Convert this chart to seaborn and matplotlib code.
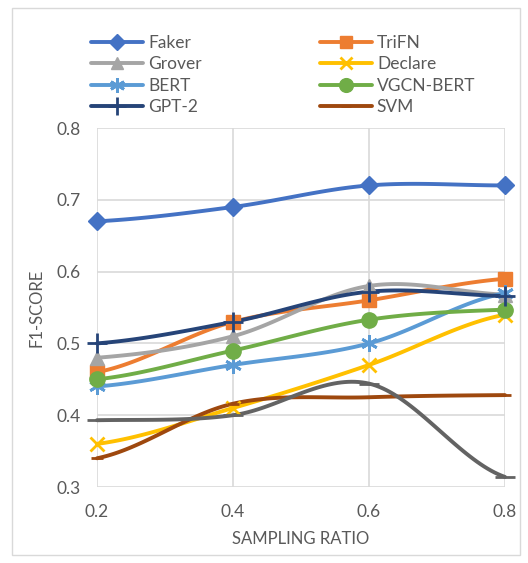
import numpy as np
import pandas as pd
import seaborn as sns
import matplotlib.pyplot as plt
from matplotlib.lines import Line2D
from matplotlib.patches import Rectangle

ratios = [0.2, 0.4, 0.6, 0.8]
faker = [0.67, 0.69, 0.72, 0.72]
trifn = [0.46, 0.53, 0.56, 0.59]
grover = [0.48, 0.51, 0.58, 0.568]
declare = [0.36, 0.41, 0.47, 0.54]
bert = [0.44, 0.47, 0.50, 0.57]
vgcn_bert = [0.45, 0.49, 0.533, 0.547]
gpt2 = [0.50, 0.53, 0.572, 0.566]
svm = [0.34, 0.416, 0.425, 0.428]
unlabeled = [0.393, 0.40, 0.444, 0.314]

# name, values, colour, marker, marker size
series = [
    ("Faker", faker, "#4472C4", "D", 9),
    ("TriFN", trifn, "#ED7D31", "s", 10),
    ("Grover", grover, "#A5A5A5", "^", 10),
    ("Declare", declare, "#FFC000", "x", 10),
    ("BERT", bert, "#5B9BD5", (6, 2, 0), 12),
    ("VGCN-BERT", vgcn_bert, "#70AD47", "o", 11),
    ("GPT-2", gpt2, "#264478", "+", 14),
    ("SVM", svm, "#9E480E", "_", 8),
]
extra = (None, unlabeled, "#636363", "_", 14)


def smooth(xs, ys, n=40):
    # excel-like smoothed line (catmull-rom through the points)
    xs, ys = np.asarray(xs, float), np.asarray(ys, float)
    px = np.concatenate([[2 * xs[0] - xs[1]], xs, [2 * xs[-1] - xs[-2]]])
    py = np.concatenate([[ys[0]], ys, [ys[-1]]])
    out_x, out_y = [], []
    for i in range(1, len(px) - 2):
        t = np.linspace(0, 1, n)
        for arr, out in ((px, out_x), (py, out_y)):
            p0, p1, p2, p3 = arr[i - 1], arr[i], arr[i + 1], arr[i + 2]
            b1 = p1 + (p2 - p0) / 6
            b2 = p2 - (p3 - p1) / 6
            out.append((1 - t) ** 3 * p1 + 3 * (1 - t) ** 2 * t * b1
                       + 3 * (1 - t) * t ** 2 * b2 + t ** 3 * p2)
    return np.concatenate(out_x), np.concatenate(out_y)


sns.set_style("white")
plt.rcParams["font.family"] = ["Lato", "DejaVu Sans"]
text_col = "#595959"

fig = plt.figure(figsize=(5.28, 5.63), dpi=100)
ax = fig.add_axes([97 / 528, 1 - 487 / 563, 408 / 528, 359 / 563])

handles = []
for name, vals, col, mk, ms in series + [extra]:
    sx, sy = smooth(ratios, vals)
    curve = pd.DataFrame({"x": sx, "y": sy})
    sns.lineplot(curve, x="x", y="y", color=col, linewidth=2.8, sort=False,
                 estimator=None, ax=ax, zorder=3)
    mew = 2 if mk in ("x", "+", "_", (6, 2, 0)) else 1
    ax.plot(ratios, vals, linestyle="none", marker=mk, markersize=ms,
            color=col, markeredgewidth=mew, zorder=4)
    if name:
        handles.append(Line2D([], [], color=col, linewidth=2.8, marker=mk,
                              markersize=ms * 0.9, markeredgewidth=mew, label=name))

ax.set_xlim(0.2, 0.8)
ax.set_ylim(0.3, 0.8)
ax.set_xticks(ratios)
ax.set_yticks([0.3, 0.4, 0.5, 0.6, 0.7, 0.8])
ax.set_xticklabels([str(r) for r in ratios])
ax.set_yticklabels(["0.3", "0.4", "0.5", "0.6", "0.7", "0.8"])
ax.grid(True, color="#D9D9D9", linewidth=1.2)
ax.set_axisbelow(True)
for s in ax.spines.values():
    s.set_visible(False)
ax.tick_params(colors=text_col, labelsize=12.5, length=0, pad=12)
ax.set_xlabel("SAMPLING RATIO", color=text_col, fontsize=12, labelpad=8)
ax.set_ylabel("F1-SCORE", color=text_col, fontsize=12, labelpad=8)
ax.margins(0)
for line in ax.lines:
    line.set_clip_on(False)

order = [0, 2, 4, 6, 1, 3, 5, 7]
fig.legend([handles[i] for i in order], [handles[i].get_label() for i in order],
           ncol=2, loc="upper left", bbox_to_anchor=(75 / 528, 1 - 19 / 563),
           frameon=False, fontsize=12.5, handlelength=3.0, columnspacing=6.8,
           labelspacing=0.32, handletextpad=0.3, labelcolor=text_col)

fig.patches.append(Rectangle((12 / 528, 8 / 563), 508 / 528, 547 / 563,
                             transform=fig.transFigure, fill=False,
                             edgecolor="#D9D9D9", linewidth=1))

fig.savefig("out.png", dpi=100)
